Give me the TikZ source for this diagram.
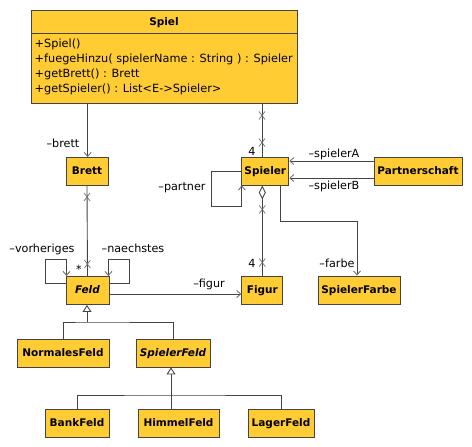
\documentclass[tikz,border=0pt]{standalone}
\usepackage{fontspec}
\setmainfont{DejaVu Sans}
\usepackage{tikz}
\usetikzlibrary{arrows.meta, decorations.markings}
\definecolor{klassengelb}{HTML}{FFCC33}
\definecolor{liniengrau}{HTML}{444444}
\definecolor{spitzengrau}{HTML}{6E6E6E}
\newcommand{\kreuzmarke}{\draw[-, spitzengrau, line width=0.7pt] (-4pt,-3pt) -- (4pt,3pt) (-4pt,3pt) -- (4pt,-3pt);}

\begin{document}
\begin{tikzpicture}[x=1pt, y=-1pt,
    klasse/.style={draw=liniengrau, fill=klassengelb, line width=0.9pt, inner sep=0pt,
        minimum height=28, text height=8, text depth=2,
        font=\fontsize{10.5}{12}\selectfont\bfseries},
    rolle/.style={anchor=base, inner sep=0pt, font=\fontsize{11.2}{12}\selectfont},
    linie/.style={draw=liniengrau, line width=0.9pt},
    pfeil/.style={linie, -{Straight Barb[length=4pt, width=7pt, color=spitzengrau]}},
    erbt/.style={linie, -{Triangle[open, length=7pt, width=9pt, fill=white]}},
    kreuze/.style 2 args={postaction={decorate, decoration={markings,
        mark=at position #1 with {\kreuzmarke},
        mark=at position -#2 with {\kreuzmarke}}}},
  ]
    \useasboundingbox (0,0) rectangle (472,447);

    % Spiel
    \node[klasse, minimum width=266, minimum height=93] at (164,56.5) (spiel) {};
    \node[klasse, draw=none, fill=none] at (164,22) (spieltitel) {Spiel};
    \draw[linie] ([yshift=-24]spiel.north west) -- ([yshift=-24]spiel.north east);
    \node[anchor=north west, align=left, inner sep=0pt, font=\fontsize{11.3}{15}\selectfont]
        at (34.5,39) (spielops) {+Spiel()\\+fuegeHinzu( spielerName : String ) : Spieler\\+getBrett() : Brett\\+getSpieler() : List<E->Spieler>};

    % Klassen
    \node[klasse, minimum width=42] at (87,171.5)   (brett) {Brett};
    \node[klasse, minimum width=43] at (87.5,290.5) (feld) {\itshape Feld};
    \node[klasse, minimum width=47] at (265.3,171)  (spieler) {Spieler};
    \node[klasse, minimum width=88] at (418,171)    (partnerschaft) {Partnerschaft};
    \node[klasse, minimum width=41] at (262.3,290)  (figur) {Figur};
    \node[klasse, minimum width=82] at (359,290)    (spielerfarbe) {SpielerFarbe};
    \node[klasse, minimum width=92] at (63,353)     (normalesfeld) {NormalesFeld};
    \node[klasse, minimum width=74] at (173,353)    (spielerfeld) {\itshape SpielerFeld};
    \node[klasse, minimum width=64] at (77,423)     (bankfeld) {BankFeld};
    \node[klasse, minimum width=81] at (178.5,423)  (himmelfeld) {HimmelFeld};
    \node[klasse, minimum width=66] at (281,423)    (lagerfeld) {LagerFeld};

    % Assoziationen
    \draw[pfeil] ([xshift=0.7]brett.north |- spiel.south) -- ([xshift=0.7]brett.north);
    \draw[linie, kreuze={12pt}{14pt}] ([xshift=-3.3]spieler.north |- spiel.south) -- ([xshift=-3.3]spieler.north);
    \draw[linie, kreuze={11pt}{12pt}] (brett.south) -- (feld.north);
    \draw[linie, {Diamond[open, length=14pt, width=7pt, fill=white]}-, kreuze={24pt}{13pt}]
        (figur.north |- spieler.south) -- (figur.north);
    \draw[pfeil] ([yshift=7.5]feld.west) -- ++(-20,0) -- ++(0,-24) -| ([xshift=1]feld.north west);
    \draw[pfeil] ([yshift=7.5]feld.east) -- ++(20,0) -- ++(0,-24) -| ([xshift=-1]feld.north east);
    \draw[pfeil] (spieler.west) -- ++(-30,0) -- ++(0,35) -| ([xshift=0.5]spieler.south west);
    \draw[pfeil] ([yshift=10]partnerschaft.west) -- ([yshift=10]partnerschaft.west -| spieler.east);
    \draw[pfeil] ([yshift=-7]partnerschaft.west) -- ([yshift=-7]partnerschaft.west -| spieler.east);
    \draw[pfeil] ([xshift=14.7]spieler.south) -- ++(0,35.7) -| ([xshift=-2]spielerfarbe.north);
    \draw[pfeil] ([yshift=-3.5]feld.east) -- ([yshift=-3.5]feld.east -| figur.west);

    % Vererbung
    \coordinate (knotenfeld) at (87,322);
    \coordinate (knotenspielerfeld) at (171,395);
    \draw[linie] (normalesfeld.north) |- (knotenfeld) -| (spielerfeld.north);
    \draw[erbt] (knotenfeld) -- (knotenfeld |- feld.south);
    \draw[linie] (bankfeld.north) |- (knotenspielerfeld) -| (lagerfeld.north);
    \draw[linie] (knotenspielerfeld |- himmelfeld.north) -- (knotenspielerfeld);
    \draw[erbt] (knotenspielerfeld) -- (knotenspielerfeld |- spielerfeld.south);

    % Rollen und Multiplizitaeten
    \node[rolle] at (63,147)  (rbrett) {–brett};
    \node[rolle] at (42,252)  (rvorheriges) {–vorheriges};
    \node[rolle] at (133,252) (rnaechstes) {–naechstes};
    \node[rolle] at (79,273)  (mfeld) {*};
    \node[rolle] at (182,190) (rpartner) {–partner};
    \node[rolle] at (334,157) (rspielera) {–spielerA};
    \node[rolle] at (334,189) (rspielerb) {–spielerB};
    \node[rolle] at (252,155) (mspieler) {4};
    \node[rolle] at (252,267) (mfigur) {4};
    \node[rolle] at (337,267) (rfarbe) {–farbe};
    \node[rolle] at (209,287) (rfigur) {–figur};
\end{tikzpicture}
\end{document}
